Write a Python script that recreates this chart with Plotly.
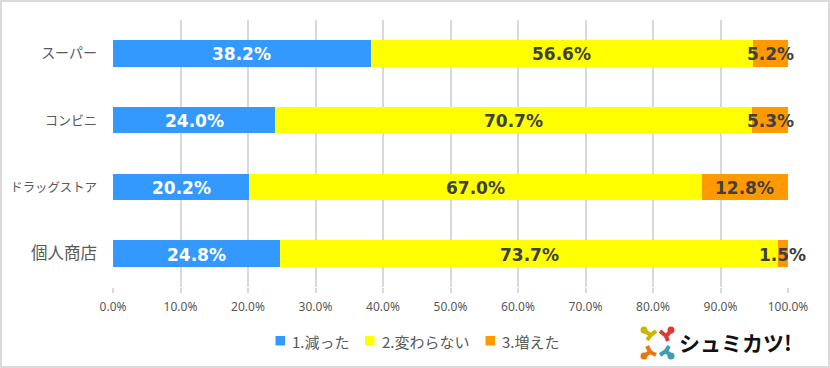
import plotly.graph_objects as go

categories = ["スーパー", "コンビニ", "ドラッグストア", "個人商店"]
category_labels = ["スーパー", '<span style="font-size:13px">コンビニ</span>',
                   '<span style="font-size:12.4px">ドラッグストア</span>',
                   '<span style="font-size:16.5px">個人商店</span>']
decreased = [38.2, 24.0, 20.2, 24.8]
unchanged = [56.6, 70.7, 67.0, 73.7]
increased = [5.2, 5.3, 12.8, 1.5]
series_names = ["1.減った", "2.変わらない", "3.増えた"]
colors = ["#3399FF", "#FFFF00", "#FF9900"]
label_colors = ["#FFFFFF", "#404040", "#404040"]
x_ticks = [0, 10, 20, 30, 40, 50, 60, 70, 80, 90, 100]

W, H = 830, 368
L, R, T, B = 113, 788, 20, 287
JP = "Noto Sans CJK JP, Noto Sans, sans-serif"

def pp(xp, yp):
    return (xp - L) / (R - L), (B - yp) / (B - T)

fig = go.Figure()
annotations = []
base = [0, 0, 0, 0]
for name, vals, c, lc in zip(series_names, [decreased, unchanged, increased], colors, label_colors):
    fig.add_trace(go.Bar(y=categories, x=vals, name=name, orientation="h",
                         marker=dict(color=c, line=dict(width=0)), hoverinfo="skip", showlegend=False))
    for i, v in enumerate(vals):
        annotations.append(dict(x=base[i] + v / 2, y=categories[i], xref="x", yref="y",
                                text=f"<b>{v:.1f}%</b>", showarrow=False, xanchor="center", yanchor="middle",
                                yshift=-1,
                                font=dict(family="DejaVu Sans, Verdana, sans-serif", size=17, color=lc)))
        base[i] += v

x0, y1 = pp(0, 0)
x1, y0 = pp(W, H)
shapes = [dict(type="rect", xref="paper", yref="paper", x0=x0, x1=x1, y0=y0, y1=y1,
               line=dict(color="#DADADA", width=4), fillcolor="rgba(0,0,0,0)", layer="below")]

# hand-placed legend, to match the reference's tight spacing
legend_squares = [275.5, 365, 485.5]
legend_text_x = [289.5, 379.5, 499.5]
for name, c, sx, tx in zip(series_names, colors, legend_squares, legend_text_x):
    a = pp(sx, 345.5)
    b = pp(sx + 9.5, 336)
    shapes.append(dict(type="rect", xref="paper", yref="paper", x0=a[0], y0=a[1], x1=b[0], y1=b[1],
                       fillcolor=c, line=dict(width=0)))
    p = pp(tx, 341)
    annotations.append(dict(x=p[0], y=p[1], xref="paper", yref="paper", text=name, showarrow=False,
                            xanchor="left", yanchor="middle",
                            font=dict(family=JP, size=15, color="#595959")))

def circle(cx, cy, r, col):
    a, b = pp(cx - r, cy + r), pp(cx + r, cy - r)
    return dict(type="circle", xref="paper", yref="paper", x0=a[0], y0=a[1], x1=b[0], y1=b[1],
                fillcolor=col, line=dict(width=0))
def stroke(xa, ya, xb, yb, col):
    a, b = pp(xa, ya), pp(xb, yb)
    return dict(type="line", xref="paper", yref="paper", x0=a[0], y0=a[1], x1=b[0], y1=b[1],
                line=dict(color=col, width=4))
shapes += [
    circle(644, 330, 3.5, "#C9B800"), stroke(644, 331, 651, 335, "#C9B800"), stroke(656, 331, 651, 335, "#C9B800"), stroke(651, 335, 647, 340, "#C9B800"),
    circle(671, 330, 3.5, "#DC3B35"), stroke(671, 331, 666, 336, "#DC3B35"), stroke(660, 331, 666, 336, "#DC3B35"), stroke(666, 336, 668, 341, "#DC3B35"),
    circle(644, 356, 3.5, "#E67A10"), stroke(644, 356, 650, 352, "#E67A10"), stroke(656, 355, 650, 352, "#E67A10"), stroke(650, 352, 647, 346, "#E67A10"),
    circle(671, 356, 3.5, "#3F9DB0"), stroke(671, 356, 666, 351, "#3F9DB0"), stroke(660, 355, 666, 351, "#3F9DB0"), stroke(666, 351, 669, 346, "#3F9DB0"),
]
lp = pp(735, 342)
annotations.append(dict(x=lp[0], y=lp[1], xref="paper", yref="paper", text="<b>シュミカツ!</b>", showarrow=False,
                        xanchor="center", yanchor="middle",
                        font=dict(family="Noto Sans CJK JP, sans-serif", size=21, color="#111111")))

fig.update_layout(
    width=W, height=H, barmode="stack", bargap=0.6, showlegend=False,
    margin=dict(l=L, r=W - R, t=T, b=H - B, pad=0, autoexpand=False),
    paper_bgcolor="white", plot_bgcolor="white",
    font=dict(family=JP, color="#595959"),
    xaxis=dict(range=[0, 100], tickvals=x_ticks, ticktext=[f"{v:.1f}%" for v in x_ticks], automargin=False,
               showgrid=True, gridcolor="#D9D9D9", gridwidth=2, ticks="outside", ticklen=5, tickcolor="#D9D9D9", tickwidth=2,
               ticklabelstandoff=4,
               tickfont=dict(size=12, color="#595959", family="Noto Sans, sans-serif"), zeroline=False, showline=False, fixedrange=True),
    yaxis=dict(categoryorder="array", categoryarray=categories, autorange="reversed", automargin=False,
               tickvals=categories, ticktext=category_labels,
               tickfont=dict(size=14, color="#595959", family=JP), ticks="", ticklabelstandoff=15, showgrid=False, zeroline=False,
               showline=False, fixedrange=True),
    shapes=shapes, annotations=annotations,
)
fig.write_html("out.html", config=dict(displayModeBar=False),
               post_script="document.body.style.margin='0';document.documentElement.style.overflow='hidden';")
